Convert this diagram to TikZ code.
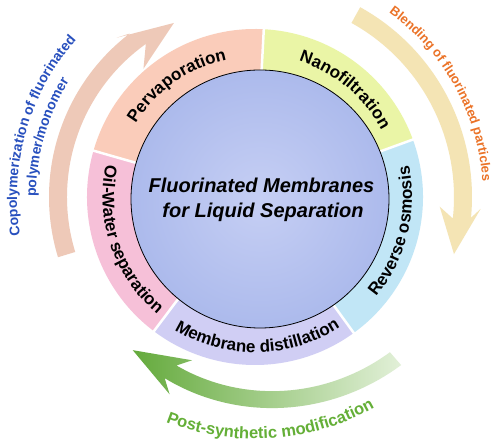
\documentclass[tikz,border=0pt]{standalone}
\usepackage{fontspec}
\setmainfont{Liberation Sans}
\usetikzlibrary{decorations.text}
\definecolor{perv}{RGB}{250,204,186}
\definecolor{nano}{RGB}{234,245,166}
\definecolor{rev}{RGB}{193,230,246}
\definecolor{memb}{RGB}{208,206,244}
\definecolor{oil}{RGB}{246,192,216}
\definecolor{peach}{RGB}{238,201,184}
\definecolor{yel}{RGB}{244,228,180}
\definecolor{gdark}{RGB}{100,170,60}
\definecolor{gmid}{RGB}{150,202,120}
\definecolor{glight}{RGB}{226,240,216}
\definecolor{bluetxt}{RGB}{40,80,190}
\definecolor{orangetxt}{RGB}{235,115,40}
\definecolor{greentxt}{RGB}{100,175,55}
\definecolor{innerA}{RGB}{198,207,244}
\definecolor{innerB}{RGB}{172,186,236}
\begin{document}
\begin{tikzpicture}[x=1pt,y=1pt,
  ctext/.style={font=\bfseries\itshape\fontsize{20}{20}\selectfont, anchor=base, inner sep=0pt},
  sep/.style={white, line width=2.5pt}]
\useasboundingbox (-255,-246) rectangle (245,197);
\fill[white] (-255,-246) rectangle (245,197);

% ring segments
\fill[perv] (0,0) -- (87:168) arc[start angle=87, end angle=164, radius=168] -- cycle;
\fill[oil]  (0,0) -- (164:168) arc[start angle=164, end angle=233, radius=168] -- cycle;
\fill[memb] (0,0) -- (233:168) arc[start angle=233, end angle=306, radius=168] -- cycle;
\fill[rev]  (0,0) -- (-54:168) arc[start angle=-54, end angle=20, radius=168] -- cycle;
\fill[nano] (0,0) -- (20:168) arc[start angle=20, end angle=87, radius=168] -- cycle;
\foreach \a in {87,164,233,306,20} \draw[sep] (\a:100) -- (\a:170);

% inner circle
\shade[inner color=innerA, outer color=innerB] (5,-2) circle (129);
\draw[black, line width=0.8pt] (5,-2) circle (129);

% central title
\node[ctext] (t1) at (6.5,4) {Fluorinated Membranes};
\node[ctext] (t2) at (8,-21) {for Liquid Separation};

% ring labels
\path[decorate, decoration={text along path, text align=center,
  text={|\bfseries\fontsize{17}{17}\selectfont|Pervaporation}}]
  (165:140) arc[start angle=165, end angle=85, radius=140];
\path[decorate, decoration={text along path, text align=center,
  text={|\bfseries\fontsize{17}{17}\selectfont|Nanofiltration}}]
  (90:143) arc[start angle=90, end angle=10, radius=143];
\path[decorate, decoration={text along path, text align=center,
  text={|\bfseries\fontsize{17}{17}\selectfont|Reverse osmosis}}]
  (-54:157) arc[start angle=-54, end angle=26, radius=157];
\path[decorate, decoration={text along path, text align=center,
  text={|\bfseries\fontsize{17}{17}\selectfont|Membrane distillation}}]
  (221:155.5) arc[start angle=221, end angle=321, radius=155.5];
\path[decorate, decoration={text along path, text align=center,
  text={|\bfseries\fontsize{17}{17}\selectfont|Oil-Water separation}}]
  (159:152.5) arc[start angle=159, end angle=239, radius=152.5];

% peach arrow
\fill[peach] (197:206) arc[start angle=197, end angle=127.5, radius=206]
  -- (131:211) -- (115:192) -- (131:170) -- (125.5:188)
  arc[start angle=125.5, end angle=197, radius=188] -- cycle;
% yellow arrow
\fill[yel] (61:217) arc[start angle=61, end angle=-5.5, radius=217]
  -- (-3:226) -- (-16:207) -- (-3:185) -- (-6.2:199)
  arc[start angle=-6.2, end angle=61, radius=199] -- cycle;
% green arrow
\shade[left color=gdark, middle color=gmid, right color=glight]
  plot[domain=311:243.5, samples=40] (\x:{212.5+(\x-277)*0.3})
  -- (246.6:215) -- (231.4:196) -- (248.9:175)
  -- plot[domain=245:311, samples=40] (\x:{195.5+(\x-277)*0.3}) -- cycle;

% outer labels
\path[decorate, decoration={text along path, text align=center, text color=bluetxt,
  text={|\bfseries\fontsize{14}{14}\selectfont|Copolymerization of fluorinated}}]
  (215:238) arc[start angle=215, end angle=113, radius=238];
\path[decorate, decoration={text along path, text align=center, text color=bluetxt,
  text={|\bfseries\fontsize{14}{14}\selectfont|polymer/monomer}}]
  (215:219) arc[start angle=215, end angle=113, radius=219];
\path[decorate, decoration={text along path, text align=center, text color=orangetxt,
  text={|\bfseries\fontsize{13}{13}\selectfont|Blending of fluorinated particles}}]
  (79:228) arc[start angle=79, end angle=-21, radius=228];
\path[decorate, decoration={text along path, text align=center, text color=greentxt,
  text={|\bfseries\fontsize{16.5}{16.5}\selectfont|Post-synthetic modification}}]
  (224:242) arc[start angle=224, end angle=324, radius=242];
\end{tikzpicture}
\end{document}
